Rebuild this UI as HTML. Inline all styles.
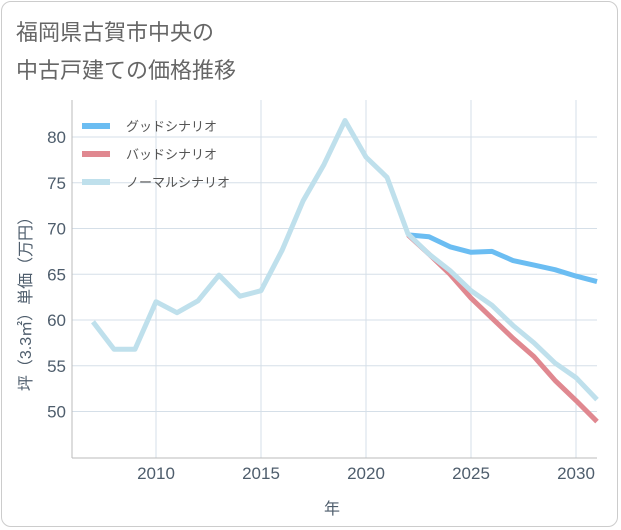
<!DOCTYPE html>
<html><head><meta charset="utf-8"><style>
body{margin:0;background:#fff;}
#wrap{position:relative;width:621px;height:530px;overflow:hidden;font-family:"Liberation Sans","Noto Sans CJK JP",sans-serif;}
#frame{position:absolute;left:1px;top:1px;width:617px;height:526px;border:1px solid #ccc;border-radius:10px;box-sizing:border-box;}
</style></head><body>
<div id="wrap">
<div id="frame"></div>
<svg id="chart" width="621" height="530" style="position:absolute;left:0;top:0"></svg>
</div>
<script>
const years=[2007,2008,2009,2010,2011,2012,2013,2014,2015,2016,2017,2018,2019,2020,2021,2022,2023,2024,2025,2026,2027,2028,2029,2030,2031];
const normalValues=[59.8,56.8,56.8,62,60.8,62.1,64.9,62.6,63.2,67.6,73,77,81.8,77.8,75.6,69.4,67.2,65.4,63.2,61.6,59.4,57.5,55.3,53.7,51.3];
const futureYears=[2022,2023,2024,2025,2026,2027,2028,2029,2030,2031];
const goodValues=[69.3,69.1,68,67.4,67.5,66.5,66,65.5,64.8,64.2];
const badValues=[69.3,67.2,65,62.4,60.2,58,56,53.4,51.2,48.9];
const xTicks=[2010,2015,2020,2025,2030];
const yTicks=[50,55,60,65,70,75,80];
const L=72,R=597,T=100,B=458;
const x=v=>156+(v-2010)*21;
const y=v=>137+(80-v)*9.15;
const svg=document.getElementById('chart');
const NS='http://www.w3.org/2000/svg';
function mk(tag,attrs,parent){const e=document.createElementNS(NS,tag);for(const k in attrs)e.setAttribute(k,attrs[k]);(parent||svg).appendChild(e);return e;}
function txt(s,attrs){const e=mk('text',attrs);e.textContent=s;return e;}
let t=txt('福岡県古賀市中央の',{x:16,y:40,'font-size':22,fill:'#666'});


t=txt('中古戸建ての価格推移',{x:16,y:78,'font-size':22,fill:'#666'});


xTicks.forEach(v=>{const l=mk('line',{x1:x(v),x2:x(v),y1:T,y2:B,stroke:'#d5dfe8','stroke-width':1});


const tl=txt(String(v),{x:x(v),y:479,'font-size':17,fill:'#4e5d6c','text-anchor':'middle'});

});
yTicks.forEach(v=>{const l=mk('line',{x1:L,x2:R,y1:y(v),y2:y(v),stroke:'#d5dfe8','stroke-width':1});


const tl=txt(String(v),{x:66,y:y(v)+6,'font-size':17,fill:'#4e5d6c','text-anchor':'end'});

});
let ax=mk('line',{x1:L,x2:L,y1:T,y2:B,stroke:'#bbb'});


ax=mk('line',{x1:L,x2:R,y1:B,y2:B,stroke:'#bbb'});


t=txt('年',{x:332,y:514,'font-size':16,fill:'#4e5d6c','text-anchor':'middle'});


t=txt('坪（3.3㎡）単価（万円）',{x:0,y:0,'font-size':16,fill:'#4e5d6c','text-anchor':'middle',transform:'translate(31,300) rotate(-90)'});


function line(xs,vs,color,w,name){const d=xs.map((v,i)=>(i?'L':'M')+x(v)+','+y(vs[i])).join(' ');
const p=mk('path',{d:d,fill:'none',stroke:color,'stroke-width':w,'stroke-linejoin':'round'});

}
line(futureYears,goodValues,'#6bbdf2',5,'good-scenario-line');
line(futureYears,badValues,'#e08890',5,'bad-scenario-line');
line(years,normalValues,'#bfe0ec',5,'normal-scenario-line');
const leg=[['グッドシナリオ','#6bbdf2'],['バッドシナリオ','#e08890'],['ノーマルシナリオ','#bfe0ec']];
leg.forEach((e,i)=>{const yy=126+i*28;
const s=mk('line',{x1:82,x2:110,y1:yy,y2:yy,stroke:e[1],'stroke-width':6});


const lt=txt(e[0],{x:126,y:yy+5,'font-size':13,fill:'#555'});

});
</script>
</body></html>
